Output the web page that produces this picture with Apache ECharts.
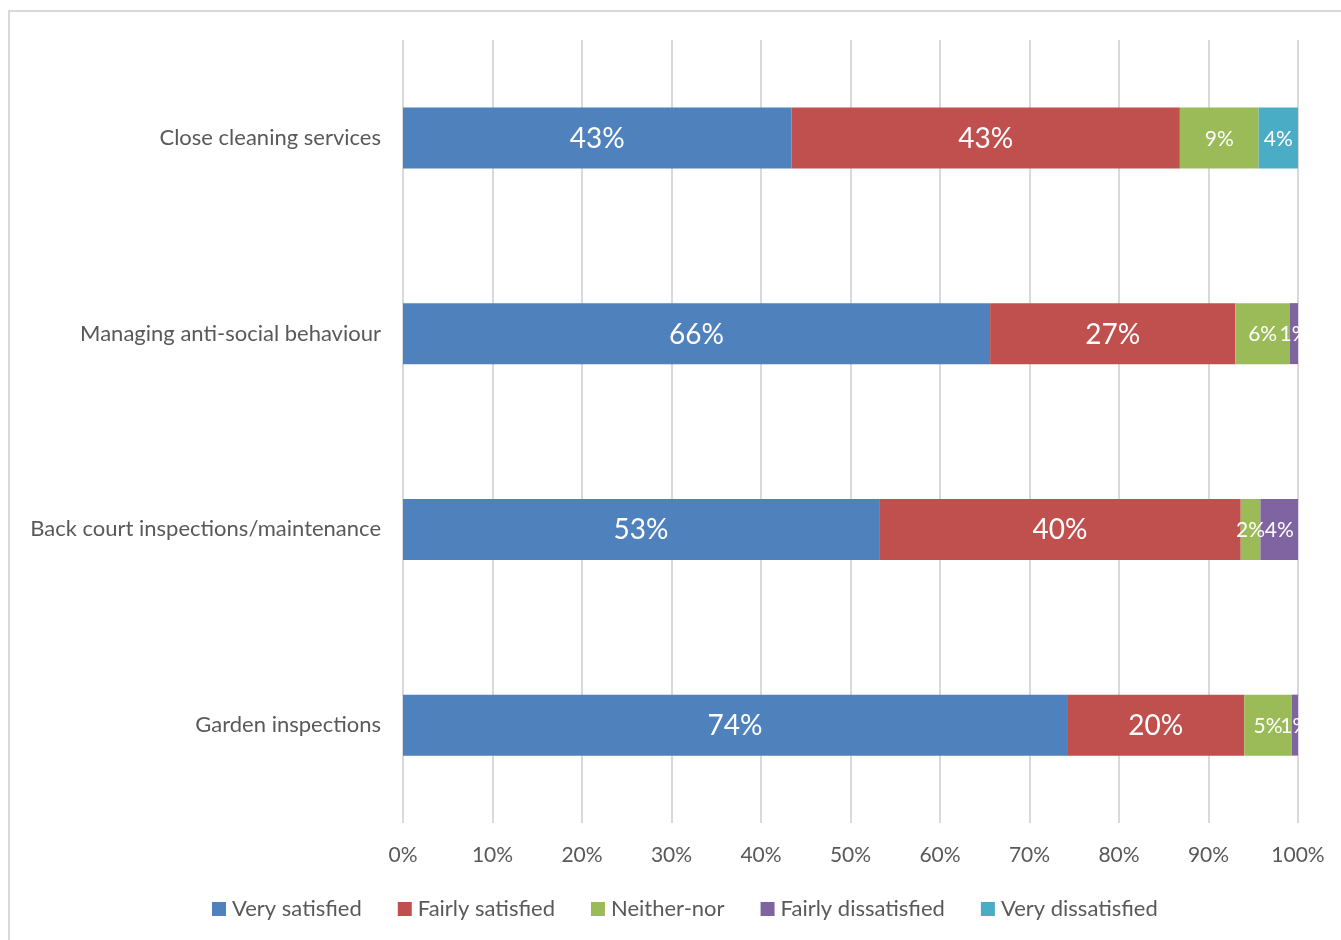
<!DOCTYPE html>
<html>
<head>
<meta charset="utf-8">
<script src="https://cdn.jsdelivr.net/npm/echarts@6/dist/echarts.min.js"></script>
<style>
  html, body { margin: 0; padding: 0; background: #fff; }
  #chart { width: 1341px; height: 940px; }
</style>
</head>
<body>
<div id="chart"></div>
<script>
// Service satisfaction, share of respondents per rating (percent)
const categories = [
  'Close cleaning services',
  'Managing anti-social behaviour',
  'Back court inspections/maintenance',
  'Garden inspections'
];
const verySatisfied      = [43.4, 65.6, 53.2, 74.2];
const fairlySatisfied    = [43.4, 27.4, 40.4, 19.8];
const neitherNor         = [8.8, 6.1, 2.2, 5.3];
const fairlyDissatisfied = [0, 0.9, 4.2, 0.7];
const veryDissatisfied   = [4.4, 0, 0, 0];
const xTicks = [0, 10, 20, 30, 40, 50, 60, 70, 80, 90, 100];

const FONT = 'Lato, "Open Sans", sans-serif';
const TEXT = '#595959';

function makeSeries(name, data, color, labelSize) {
  return {
    name: name,
    type: 'bar',
    stack: 'total',
    barWidth: 61,
    data: data,
    itemStyle: { color: color },
    label: {
      show: true,
      position: 'inside',
      color: '#fff',
      fontFamily: FONT,
      fontSize: labelSize,
      offset: [0, 1],
      formatter: p => (p.value > 0 ? Math.round(p.value) + '%' : '')
    },
    emphasis: { disabled: true }
  };
}

const chart = echarts.init(document.getElementById('chart'), null, { renderer: 'canvas' });
chart.setOption({
  animation: false,
  backgroundColor: '#fff',
  textStyle: { fontFamily: FONT },
  graphic: [{
    type: 'rect',
    shape: { x: 9, y: 11, width: 1400, height: 1000 },
    style: { fill: 'none', stroke: '#d9d9d9', lineWidth: 2 },
    silent: true
  }],
  grid: { left: 403, right: 43, top: 40, bottom: 117, containLabel: false },
  legend: {
    bottom: 15,
    left: 207,
    itemWidth: 14,
    itemHeight: 14,
    itemGap: 36,
    icon: 'rect',
    textStyle: { color: TEXT, fontSize: 22, fontFamily: FONT, padding: [0, 0, 0, 1] },
    data: ['Very satisfied', 'Fairly satisfied', 'Neither-nor', 'Fairly dissatisfied', 'Very dissatisfied']
  },
  xAxis: {
    type: 'value',
    min: xTicks[0],
    max: xTicks[xTicks.length - 1],
    interval: 10,
    axisLine: { show: false },
    axisTick: { show: false },
    splitLine: { show: true, lineStyle: { color: '#d9d9d9', width: 2 } },
    axisLabel: { color: TEXT, fontSize: 21, fontFamily: FONT, margin: 22, formatter: '{value}%' }
  },
  yAxis: {
    type: 'category',
    inverse: true,
    data: categories,
    axisLine: { show: false },
    axisTick: { show: false },
    axisLabel: { color: TEXT, fontSize: 22, fontFamily: FONT, margin: 22 }
  },
  series: [
    makeSeries('Very satisfied', verySatisfied, '#4f81bd', 28),
    makeSeries('Fairly satisfied', fairlySatisfied, '#c0504d', 28),
    makeSeries('Neither-nor', neitherNor, '#9bbb59', 21),
    makeSeries('Fairly dissatisfied', fairlyDissatisfied, '#8064a2', 21),
    makeSeries('Very dissatisfied', veryDissatisfied, '#4bacc6', 21)
  ]
});
</script>
</body>
</html>
